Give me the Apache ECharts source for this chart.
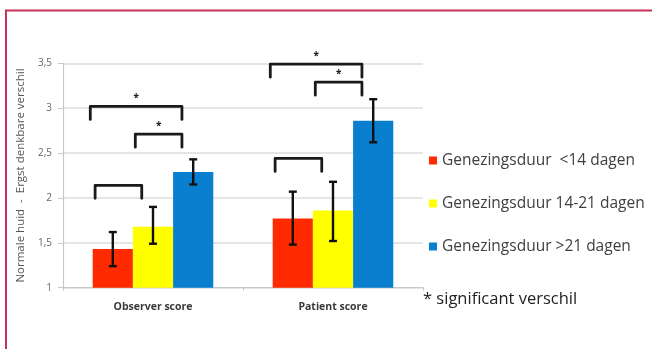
<!DOCTYPE html>
<html>
<head>
<meta charset="utf-8">
<script src="https://cdn.jsdelivr.net/npm/echarts@6/dist/echarts.min.js"></script>
<style>
  html, body { margin: 0; padding: 0; background: #fff; }
  #chart { width: 652px; height: 349px; }
</style>
</head>
<body>
<div id="chart"></div>
<script>
// Score categories and the three healing-time groups
const categories = ['Observer score', 'Patient score'];
const seriesNames = ['Genezingsduur  <14 dagen', 'Genezingsduur 14-21 dagen', 'Genezingsduur >21 dagen'];
const seriesColors = ['#ff2a00', '#ffff00', '#0a7fd0'];

// Mean scores per group
const shortHealing = [1.43, 1.77];
const midHealing = [1.68, 1.86];
const longHealing = [2.29, 2.86];

// Error bar bounds per group: [low, high] for each category
const shortErr = [[1.24, 1.62], [1.48, 2.07]];
const midErr = [[1.49, 1.90], [1.52, 2.18]];
const longErr = [[2.15, 2.43], [2.62, 3.10]];

// Comparison brackets: category index, first bar, second bar, bracket height, significant
const brackets = [
  [0, 0, 1, 2.14, false],
  [0, 1, 2, 2.71, true],
  [0, 0, 2, 3.02, true],
  [1, 0, 1, 2.44, false],
  [1, 1, 2, 3.29, true],
  [1, 0, 2, 3.49, true]
];

const yTicks = [1, 1.5, 2, 2.5, 3, 3.5];
const yAxisTitle = 'Normale huid  -  Ergst denkbare verschil';
const footnote = '* significant verschil';

const GAP = 0.33; // barCategoryGap as fraction
const font = '"Open Sans", "Noto Sans", sans-serif';

function barX(api, cat, idx, frac) {
  const center = api.coord([cat, 1])[0];
  const band = api.size([1, 0])[0];
  const group = band * (1 - GAP);
  const bw = group / 3;
  return center - group / 2 + (idx + frac) * bw;
}

function errorSeries(idx, errs) {
  return {
    type: 'custom',
    name: seriesNames[idx] + ' err',
    z: 5,
    data: errs.map((e, i) => [i, e[0], e[1]]),
    renderItem: function (params, api) {
      const cat = api.value(0);
      const x = barX(api, cat, idx, 0.5);
      const yLo = api.coord([cat, api.value(1)])[1];
      const yHi = api.coord([cat, api.value(2)])[1];
      const style = { stroke: '#111', lineWidth: 2.4 };
      const cap = 4;
      return {
        type: 'group',
        children: [
          { type: 'line', shape: { x1: x, y1: yLo, x2: x, y2: yHi }, style },
          { type: 'line', shape: { x1: x - cap, y1: yHi, x2: x + cap, y2: yHi }, style },
          { type: 'line', shape: { x1: x - cap, y1: yLo, x2: x + cap, y2: yLo }, style }
        ]
      };
    },
    silent: true,
    tooltip: { show: false }
  };
}

const bracketSeries = {
  type: 'custom',
  z: 6,
  silent: true,
  data: brackets.map(b => [b[0], b[1], b[2], b[3], b[4] ? 1 : 0]),
  renderItem: function (params, api) {
    const cat = api.value(0);
    const a = api.value(1), b = api.value(2);
    // left end sits slightly inside the first bar, right end past the second bar's centre
    const x1 = barX(api, cat, a, a === 0 && b === 2 ? -0.06 : 0.06);
    const x2 = barX(api, cat, b, 0.22);
    const y = api.coord([cat, api.value(3)])[1];
    const leg = 13;
    const children = [{
      type: 'polyline',
      shape: { points: [[x1, y + leg], [x1, y], [x2, y], [x2, y + leg]] },
      style: { stroke: '#1a1a1a', lineWidth: 2.8, fill: null, lineJoin: 'round', lineCap: 'round' }
    }];
    if (api.value(4)) {
      children.push({
        type: 'text',
        style: {
          x: (x1 + x2) / 2, y: y - 3, text: '*',
          fill: '#1a1a1a', font: 'bold 10px ' + font,
          align: 'center', verticalAlign: 'bottom'
        }
      });
    }
    return { type: 'group', children };
  }
};

const chart = echarts.init(document.getElementById('chart'), null, { renderer: 'canvas' });

chart.setOption({
  animation: false,
  backgroundColor: '#fff',
  grid: { left: 63, right: 229, top: 63.3, bottom: 61.3, containLabel: false },
  legend: {
    data: seriesNames,
    orient: 'vertical',
    left: 424,
    top: 147,
    itemWidth: 8,
    itemHeight: 8,
    itemGap: 26,
    icon: 'rect',
    textStyle: { color: '#404040', fontSize: 15.5, fontFamily: font, padding: [0, 0, 0, 0], lineHeight: 17 },
    selectedMode: false
  },
  xAxis: {
    type: 'category',
    data: categories,
    axisLine: { lineStyle: { color: '#c8c8c8', width: 1.2 } },
    axisTick: { show: true, length: 3, lineStyle: { color: '#c8c8c8' } },
    axisLabel: { color: '#3a3a3a', fontSize: 10.5, fontWeight: 'bold', fontFamily: font, margin: 14 }
  },
  yAxis: {
    type: 'value',
    min: yTicks[0],
    max: yTicks[yTicks.length - 1],
    interval: 0.5,
    name: yAxisTitle,
    nameLocation: 'middle',
    nameGap: 30,
    nameTextStyle: { color: '#555', fontSize: 11.5, fontFamily: font },
    axisLine: { show: true, lineStyle: { color: '#c8c8c8', width: 1.2 } },
    axisTick: { show: true, length: 5, lineStyle: { color: '#c8c8c8' } },
    splitLine: { lineStyle: { color: '#dcdcdc', width: 1.5 } },
    axisLabel: {
      color: '#666', fontSize: 10, fontFamily: font, margin: 11,
      formatter: v => String(v).replace('.', ',')
    }
  },
  series: [
    { type: 'bar', name: seriesNames[0], data: shortHealing, itemStyle: { color: seriesColors[0] }, barGap: 0, barCategoryGap: '33%' },
    { type: 'bar', name: seriesNames[1], data: midHealing, itemStyle: { color: seriesColors[1] }, barGap: 0, barCategoryGap: '33%' },
    { type: 'bar', name: seriesNames[2], data: longHealing, itemStyle: { color: seriesColors[2] }, barGap: 0, barCategoryGap: '33%' },
    errorSeries(0, shortErr),
    errorSeries(1, midErr),
    errorSeries(2, longErr),
    bracketSeries
  ],
  graphic: [
    {
      type: 'polyline',
      shape: { points: [[6, 360], [6, 10.5], [660, 10.5]] },
      style: { stroke: '#c8325a', lineWidth: 2, fill: null }
    },
    {
      type: 'text',
      left: 423,
      top: 291,
      style: { text: footnote, fill: '#222', font: '16.5px ' + font }
    }
  ]
});
</script>
</body>
</html>
